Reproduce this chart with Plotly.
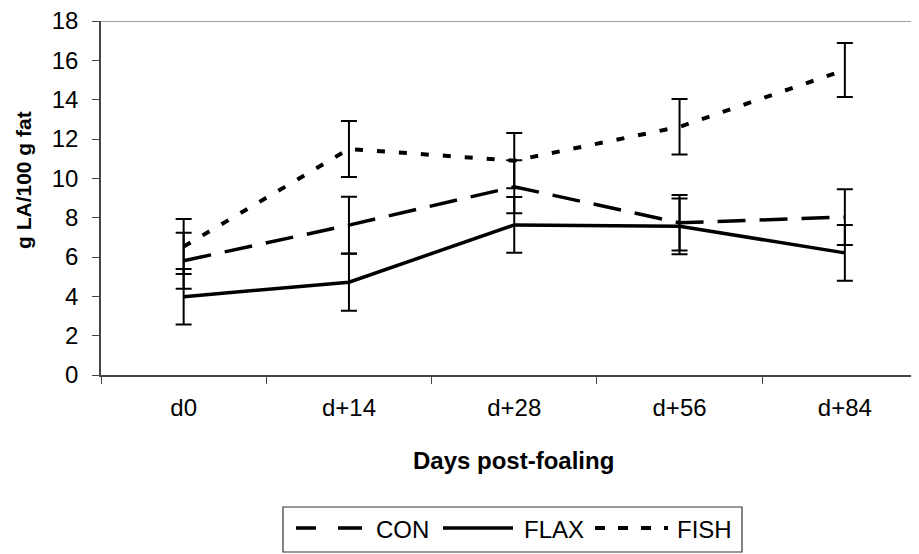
import plotly.graph_objects as go

categories = ["d0", "d+14", "d+28", "d+56", "d+84"]
con = [5.81, 7.62, 9.57, 7.74, 8.03]
con_err = [1.42, 1.44, 1.35, 1.41, 1.42]
flax = [3.98, 4.72, 7.63, 7.56, 6.21]
flax_err = [1.41, 1.45, 1.42, 1.42, 1.42]
fish = [6.53, 11.49, 10.90, 12.62, 15.51]
fish_err = [1.40, 1.42, 1.41, 1.41, 1.37]
y_ticks = [0, 2, 4, 6, 8, 10, 12, 14, 16, 18]
series_names = ["CON", "FLAX", "FISH"]

FONT = "Liberation Sans, Arial, sans-serif"

# figure geometry (page body has an 8px margin)
W, H = 911, 546
ML, MT, PW, PH = 93, 13, 818, 354
MB = H - MT - PH


def px(x):  # figure px -> paper x
    return (x - ML) / PW


def py(y):  # figure px -> paper y
    return (MT + PH - y) / PH


styles = {
    "CON": dict(dash="28px,14px", width=3.5),
    "FLAX": dict(dash="solid", width=3.5),
    "FISH": dict(dash="8px,14px", width=4),
}

fig = go.Figure()
for name, vals, errs in [("CON", con, con_err), ("FLAX", flax, flax_err), ("FISH", fish, fish_err)]:
    fig.add_trace(go.Scatter(
        x=categories, y=vals, name=name, mode="lines", showlegend=False,
        line=dict(color="black", **styles[name]),
        error_y=dict(type="data", array=errs, visible=True, color="black",
                     thickness=2, width=8),
    ))

# hand-built legend matching the original's long samples
shapes = [
    dict(type="line", xref="paper", yref="y", x0=0, x1=1, y0=18, y1=18,
         line=dict(color="#808080", width=1.5)),
    dict(type="rect", xref="paper", yref="paper", x0=px(275), x1=px(734),
         y0=py(499), y1=py(544), line=dict(color="#333", width=1.2),
         fillcolor="rgba(0,0,0,0)"),
]
legend_items = [
    ("CON", 288, 354, "20px,22px,24px", 3.5, 366),
    ("FLAX", 435, 505, "solid", 3.5, 514),
    ("FISH", 587, 660, "10px,13px", 4, 667),
]
annotations = []
for name, x0, x1, dash, w, tx in legend_items:
    shapes.append(dict(type="line", xref="paper", yref="paper", x0=px(x0), x1=px(x1),
                       y0=py(520), y1=py(520), line=dict(color="black", width=w, dash=dash)))
    annotations.append(dict(text=name, xref="paper", yref="paper", x=px(tx), y=py(521),
                            xanchor="left", yanchor="middle", showarrow=False,
                            font=dict(size=24)))

annotations += [
    dict(text="<b>Days post-foaling</b>", xref="paper", yref="paper",
         x=px(505), y=py(452), xanchor="center", yanchor="middle",
         showarrow=False, font=dict(size=24)),
    dict(text="<b>g LA/100 g fat</b>", xref="paper", yref="paper",
         x=px(15), y=py(172), xanchor="center", yanchor="middle",
         textangle=-90, showarrow=False, font=dict(size=21)),
]

fig.update_layout(
    width=W, height=H,
    margin=dict(l=ML, r=W - ML - PW, t=MT, b=MB),
    paper_bgcolor="white", plot_bgcolor="white",
    font=dict(family=FONT, size=24, color="black"),
    showlegend=False,
    xaxis=dict(type="category", range=[-0.5, -0.5 + PW / 165.3], tickson="boundaries",
               ticks="outside", ticklen=7, tickcolor="#444", showline=True,
               linecolor="#444", linewidth=1.5, showgrid=False, zeroline=False,
               ticklabelstandoff=10, tickfont=dict(size=24)),
    yaxis=dict(range=[0, 18], tickvals=y_ticks, ticks="outside", ticklen=7,
               tickcolor="#444", showline=True, linecolor="#444", linewidth=1.5,
               showgrid=False, zeroline=False, ticklabelstandoff=9,
               ticklabeloverflow="allow", tickfont=dict(size=24)),
    shapes=shapes,
    annotations=annotations,
)

fig.write_html("out.html")
